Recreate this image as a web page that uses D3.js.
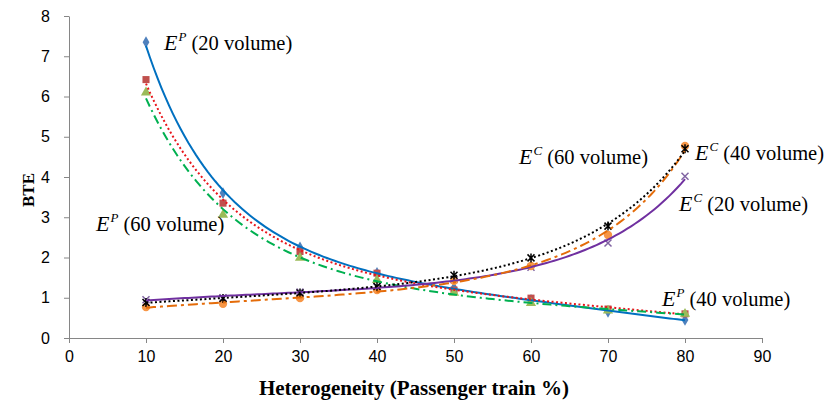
<!DOCTYPE html>
<html>
<head>
<meta charset="utf-8">
<script src="https://cdn.jsdelivr.net/npm/d3@7"></script>
<style>
  body { margin: 0; background: #fff; }
  svg { font-family: "Liberation Serif", "Times New Roman", serif; }
  .axis path, .axis line { stroke: #868686; }
  .axis text { font-size: 16px; fill: #000; }
</style>
</head>
<body>
<script>
// data
var heterogeneity = [10, 20, 30, 40, 50, 60, 70, 80];
var ep20 = [7.35, 3.6, 2.25, 1.62, 1.25, 0.95, 0.65, 0.45];
var ep40 = [6.42, 3.35, 2.15, 1.61, 1.19, 0.99, 0.72, 0.6];
var ep60 = [6.1, 3.06, 1.99, 1.44, 1.12, 0.87, 0.68, 0.6];
var ec20 = [0.95, 1.0, 1.14, 1.27, 1.45, 1.76, 2.36, 4.02];
var ec40 = [0.77, 0.85, 0.99, 1.19, 1.42, 1.79, 2.56, 4.77];
var ec60 = [0.88, 0.98, 1.12, 1.28, 1.56, 1.99, 2.78, 4.7];
var xTicks = [0, 10, 20, 30, 40, 50, 60, 70, 80, 90];
var yTicks = [0, 1, 2, 3, 4, 5, 6, 7, 8];

// set up canvas
var margin = {top: 16, right: 72, bottom: 66, left: 69},
    width = 834 - margin.left - margin.right,
    height = 404 - margin.top - margin.bottom;

var x = d3.scaleLinear().domain([0, 90]).range([0, width]),
    y = d3.scaleLinear().domain([0, 8]).range([height, 0]);

var svg = d3.select("body").append("svg")
    .attr("width", 834)
    .attr("height", 404);

var g = svg.append("g")
    .attr("transform", "translate(" + margin.left + "," + margin.top + ")");

// axes
g.append("g")
    .attr("class", "axis axis--x")
    .attr("transform", "translate(0," + height + ")")
    .call(d3.axisBottom(x).tickValues(xTicks).tickSize(5).tickSizeOuter(0).tickPadding(8));

g.append("g")
    .attr("class", "axis axis--y")
    .call(d3.axisLeft(y).tickValues(yTicks).tickSize(5).tickSizeOuter(0).tickPadding(14));

// axis labels
svg.append("text")
    .attr("transform", "translate(34,190) rotate(-90)")
    .attr("text-anchor", "middle")
    .style("font-size", "17px")
    .style("font-weight", "bold")
    .text("BTE");

svg.append("text")
    .attr("x", 414)
    .attr("y", 395)
    .attr("text-anchor", "middle")
    .style("font-size", "21px")
    .style("font-weight", "bold")
    .text("Heterogeneity (Passenger train %)");

// trendline: least squares cubic on ln(BTE), returned as a function of x
function logPolyFit(xs, ys, deg) {
  var n = deg + 1, A = [], i, j, k;
  for (i = 0; i < n; i++) {
    A.push([]);
    for (j = 0; j <= n; j++) A[i].push(0);
  }
  xs.forEach(function(xv, p) {
    var u = xv / 10, ly = Math.log(ys[p]);
    for (i = 0; i < n; i++) {
      for (j = 0; j < n; j++) A[i][j] += Math.pow(u, i + j);
      A[i][n] += ly * Math.pow(u, i);
    }
  });
  for (i = 0; i < n; i++) {
    var piv = i;
    for (k = i + 1; k < n; k++) if (Math.abs(A[k][i]) > Math.abs(A[piv][i])) piv = k;
    var tmp = A[i]; A[i] = A[piv]; A[piv] = tmp;
    for (k = i + 1; k < n; k++) {
      var f = A[k][i] / A[i][i];
      for (j = i; j <= n; j++) A[k][j] -= f * A[i][j];
    }
  }
  var c = new Array(n);
  for (i = n - 1; i >= 0; i--) {
    var s = A[i][n];
    for (j = i + 1; j < n; j++) s -= A[i][j] * c[j];
    c[i] = s / A[i][i];
  }
  return function(xv) {
    var u = xv / 10, s = 0;
    for (var q = 0; q < n; q++) s += c[q] * Math.pow(u, q);
    return Math.exp(s);
  };
}

var series = [
  {vals: ep20, color: "#0070C0", dash: null, marker: "diamond", mcolor: "#4F81BD"},
  {vals: ep40, color: "#E8151B", dash: "2,2.5", marker: "square", mcolor: "#C0504D"},
  {vals: ep60, color: "#00B050", dash: "9,4,2,4", marker: "triangle", mcolor: "#9BBB59"},
  {vals: ec20, color: "#7030A0", dash: null, marker: "x", mcolor: "#8064A2"},
  {vals: ec40, color: "#E46C0A", dash: "10,4,3,4", marker: "circle", mcolor: "#F79646"},
  {vals: ec60, color: "#000000", dash: "2,2.5", marker: "star", mcolor: "#000000"}
];

var line = d3.line()
    .x(function(d) { return x(d[0]); })
    .y(function(d) { return y(d[1]); });

var samples = d3.range(10, 80.01, 0.5);

// markers first, trendlines over them
series.forEach(function(s) {
  var pts = g.append("g");
  heterogeneity.forEach(function(h, i) {
    var tr = "translate(" + x(h) + "," + y(s.vals[i]) + ")";
    if (s.marker == "diamond") {
      pts.append("path").attr("transform", tr)
        .attr("d", d3.symbol().type(d3.symbolDiamond).size(40)).attr("fill", s.mcolor);
    } else if (s.marker == "square") {
      pts.append("path").attr("transform", tr)
        .attr("d", d3.symbol().type(d3.symbolSquare).size(50)).attr("fill", s.mcolor);
    } else if (s.marker == "triangle") {
      pts.append("path").attr("transform", tr)
        .attr("d", d3.symbol().type(d3.symbolTriangle).size(45)).attr("fill", s.mcolor);
    } else if (s.marker == "circle") {
      pts.append("path").attr("transform", tr)
        .attr("d", d3.symbol().type(d3.symbolCircle).size(55)).attr("fill", s.mcolor);
    } else if (s.marker == "x") {
      pts.append("path").attr("transform", tr)
        .attr("d", "M-3.5,-3.5L3.5,3.5M-3.5,3.5L3.5,-3.5")
        .attr("stroke", s.mcolor).attr("stroke-width", 1.5);
    } else {
      pts.append("path").attr("transform", tr)
        .attr("d", "M-3.5,-3.5L3.5,3.5M-3.5,3.5L3.5,-3.5M0,-4.5L0,4.5")
        .attr("stroke", s.mcolor).attr("stroke-width", 1.5);
    }
  });
});

series.forEach(function(s) {
  var fit = logPolyFit(heterogeneity, s.vals, 3);
  g.append("path")
      .datum(samples.map(function(h) { return [h, fit(h)]; }))
      .attr("fill", "none")
      .attr("stroke", s.color)
      .attr("stroke-width", 2)
      .attr("stroke-dasharray", s.dash)
      .attr("d", line);
});

// series labels
var labels = [
  {sup: "P", vol: "(20 volume)", x: 164, y: 50},
  {sup: "P", vol: "(60 volume)", x: 96, y: 231},
  {sup: "C", vol: "(60 volume)", x: 519, y: 164},
  {sup: "C", vol: "(40 volume)", x: 695, y: 160},
  {sup: "C", vol: "(20 volume)", x: 679, y: 211},
  {sup: "P", vol: "(40 volume)", x: 662, y: 306}
];

labels.forEach(function(l) {
  var t = svg.append("text").attr("x", l.x).attr("y", l.y);
  t.append("tspan").style("font-style", "italic").style("font-size", "22px").text("E");
  t.append("tspan").style("font-style", "italic").style("font-size", "13px")
    .attr("dy", -9).attr("dx", 1).text(l.sup);
  t.append("tspan").style("font-size", "20.5px").attr("dy", 9).text("\u00a0" + l.vol);
});
</script>
</body>
</html>
